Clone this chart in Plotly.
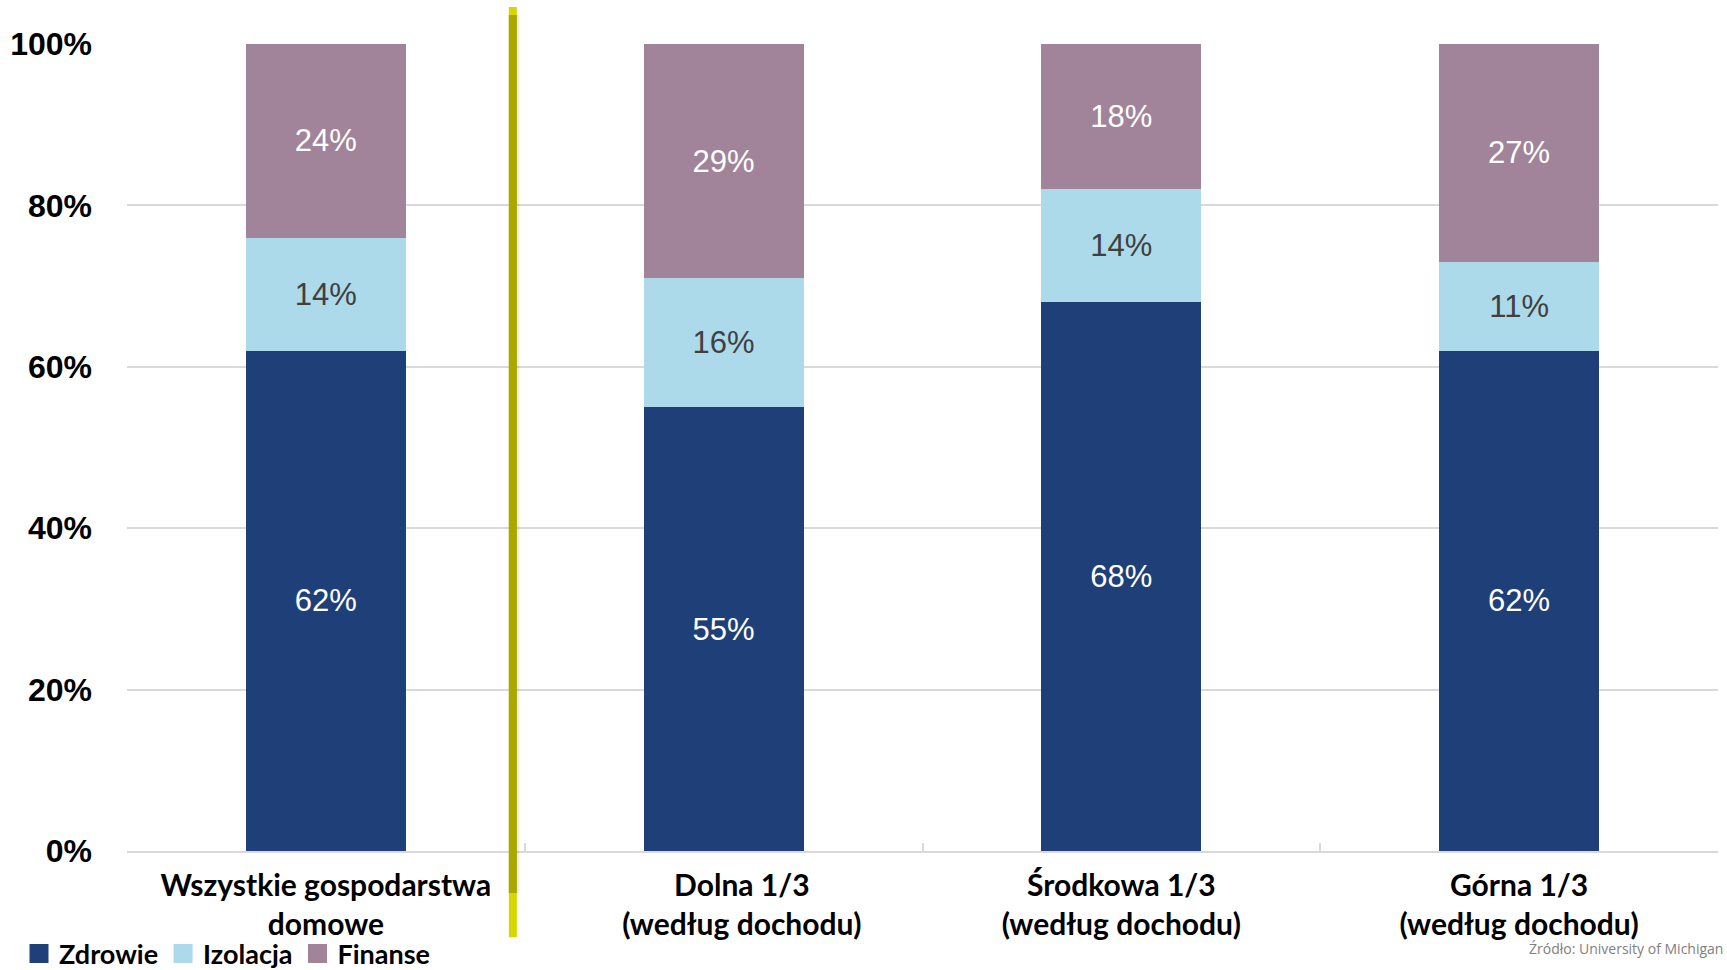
import plotly.graph_objects as go

categories = [
    "Wszystkie gospodarstwa<br>domowe",
    "Dolna 1/3<br>(według dochodu)",
    "Środkowa 1/3<br>(według dochodu)",
    "Górna 1/3<br>(według dochodu)",
]
# tick text as shown (the second label sits slightly right of its bar in the original)
NB = "\u00a0" * 5
tick_labels = [
    "Wszystkie gospodarstwa<br>domowe",
    NB + "Dolna 1/3<br>" + NB + "(według dochodu)",
    "Środkowa 1/3<br>(według dochodu)",
    "Górna 1/3<br>(według dochodu)",
]
zdrowie = [62, 55, 68, 62]
izolacja = [14, 16, 14, 11]
finanse = [24, 29, 18, 27]
y_ticks = [0, 20, 40, 60, 80, 100]
y_tick_labels = ["0%", "20%", "40%", "60%", "80%", "100%"]

series = [
    ("Zdrowie", zdrowie, "#1F3F78", "#FFFFFF"),
    ("Izolacja", izolacja, "#ADDAEA", "#404040"),
    ("Finanse", finanse, "#A18499", "#FFFFFF"),
]

fig = go.Figure()
for name, vals, color, tcolor in series:
    fig.add_trace(go.Bar(
        name=name,
        x=categories,
        y=vals,
        marker=dict(color=color, line=dict(width=0)),
        texttemplate="%{y:.0f}%",
        textposition="inside",
        insidetextanchor="middle",
        textangle=0,
        textfont=dict(family="Liberation Sans, Arial, sans-serif", size=31, color=tcolor),
        hoverinfo="skip",
        showlegend=False,
    ))
# legend keys (square markers, like the original legend)
for name, vals, color, tcolor in series:
    fig.add_trace(go.Scatter(
        name=name, x=[None], y=[None], mode="markers",
        marker=dict(symbol="square", size=16, color=color, line=dict(color=color, width=3)),
        showlegend=True, hoverinfo="skip",
    ))

# separator line between overall and income groups
fig.add_shape(type="line", xref="x", yref="paper", x0=0.47, x1=0.47, y0=-0.107, y1=1.046,
              line=dict(color="#D6D600", width=8), layer="above")
fig.add_shape(type="line", xref="x", yref="paper", x0=0.47, x1=0.47, y0=-0.052, y1=1.036,
              line=dict(color="#A8A800", width=8), layer="above")
fig.add_shape(type="line", xref="x", yref="paper", x0=0.483, x1=0.483, y0=-0.052, y1=1.036,
              line=dict(color="rgba(0,0,0,0.07)", width=3), layer="above")

fig.update_layout(
    width=1727,
    height=970,
    margin=dict(l=127, r=9, t=44, b=119, autoexpand=False),
    plot_bgcolor="white",
    paper_bgcolor="white",
    barmode="stack",
    bargap=0.598,
    showlegend=True,
    legend=dict(
        orientation="h",
        traceorder="normal",
        xref="container", yref="container",
        x=0.011, y=0.0418, xanchor="left", yanchor="top",
        font=dict(family="Lato, sans-serif", size=27, color="#000000", weight=700),
        itemwidth=30,
        tracegroupgap=0,
        bgcolor="rgba(0,0,0,0)",
    ),
    xaxis=dict(
        automargin=False,
        showgrid=False,
        showline=True,
        linecolor="#D9D9D9",
        linewidth=2,
        ticks="inside",
        ticklen=8,
        tickwidth=1.5,
        tickcolor="#D9D9D9",
        tickson="boundaries",
        tickmode="array",
        tickvals=categories,
        ticktext=tick_labels,
        ticklabelstandoff=7,
        tickfont=dict(family="Lato, sans-serif", size=30, color="#000000", weight=700),
        range=[-0.5, 3.5],
    ),
    yaxis=dict(
        automargin=False,
        range=[0, 100],
        tickvals=y_ticks,
        ticktext=y_tick_labels,
        showgrid=True,
        gridcolor="#D9D9D9",
        gridwidth=2,
        zeroline=False,
        showline=False,
        ticks="",
        ticklabelstandoff=34,
        tickfont=dict(family="Liberation Sans, Arial, sans-serif", size=32, color="#000000", weight=700),
    ),
    annotations=[
        dict(
            text="Źródło: University of Michigan",
            xref="paper", yref="paper",
            x=1.0044, y=-0.1214,
            xanchor="right", yanchor="middle",
            showarrow=False,
            font=dict(family="Open Sans, sans-serif", size=14, color="#808080"),
        )
    ],
)

fig.write_html(
    "out.html",
    config={"displayModeBar": False},
    post_script="document.body.style.margin='0';document.body.style.overflow='hidden';",
)
